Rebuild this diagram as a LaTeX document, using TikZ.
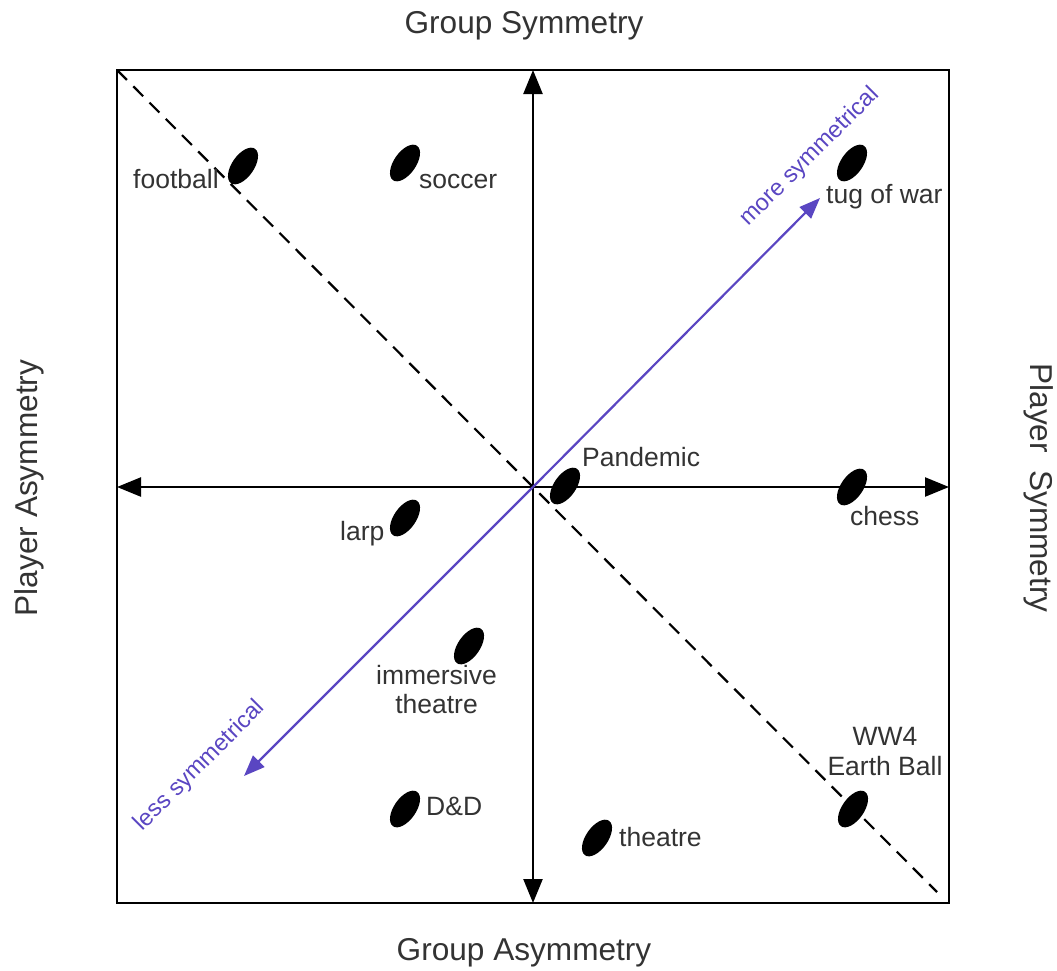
\documentclass[tikz,border=0pt]{standalone}
\usepackage{fontspec}
\setmainfont{Liberation Sans}
\usetikzlibrary{arrows.meta,shapes.geometric}
\definecolor{txt}{HTML}{333333}
\definecolor{purp}{HTML}{5A46C2}
\begin{document}
\begin{tikzpicture}[x=1pt,y=-1pt,
  frame/.style={line width=2.4pt},
  axis/.style={line width=2.4pt,{Triangle[length=24pt,width=19pt]}-{Triangle[length=24pt,width=19pt]}},
  diag/.style={line width=2.2pt,dash pattern=on 14pt off 9pt},
  purparrow/.style={line width=2.2pt,purp,-{Triangle[length=21pt,width=16pt]}},
  dot/.style={ellipse,fill=black,draw=none,minimum width=42pt,minimum height=22pt,inner sep=0pt,rotate=55},
  lab/.style={text=txt,font=\fontsize{26.5}{30}\selectfont,inner sep=0pt},
  title/.style={text=txt,font=\fontsize{31.6}{36}\selectfont,inner sep=0pt},
  plab/.style={text=purp,font=\fontsize{23.5}{26}\selectfont,inner sep=0pt,rotate=45}]
\useasboundingbox (0,0) rectangle (1057,970);
\coordinate (tl) at (117,70);
\coordinate (br) at (949,903);
\coordinate (c) at (533,487);
\coordinate (top) at (533,70);
\coordinate (bot) at (533,903);
\coordinate (lft) at (117,487);
\coordinate (rgt) at (949,487);
\coordinate (dend) at (937,892);
\coordinate (more) at (820,198);
\coordinate (less) at (244,776);
\draw[frame] (tl) rectangle (br);
\draw[diag] (tl) -- (dend);
\draw[axis] (bot) -- (top);
\draw[axis] (lft) -- (rgt);
\draw[purparrow] (c) -- (more);
\draw[purparrow] (c) -- (less);
% dots
\node[dot] (d1) at (243,166) {};
\node[dot] (d2) at (405,163) {};
\node[dot] (d3) at (852,163) {};
\node[dot] (d4) at (565,486) {};
\node[dot] (d5) at (852,487) {};
\node[dot] (d6) at (405,518) {};
\node[dot] (d7) at (469,646) {};
\node[dot] (d8) at (405,809) {};
\node[dot] (d9) at (597,838) {};
\node[dot] (d10) at (853,809) {};
% labels
\node[lab,anchor=base west] (l1) at (133,188) {football};
\node[lab,anchor=base west] (l2) at (419,188) {soccer};
\node[lab,anchor=base west] (l3) at (826,203) {tug of war};
\node[lab,anchor=base west] (l4) at (582,466) {Pandemic};
\node[lab,anchor=base west] (l5) at (850,525) {chess};
\node[lab,anchor=base west] (l6) at (340,540) {larp};
\node[lab,anchor=base] (l7a) at (436.5,684) {immersive};
\node[lab,anchor=base] (l7b) at (436.5,713) {theatre};
\node[lab,anchor=base west] (l8) at (426,815) {D\&D};
\node[lab,anchor=base west] (l9) at (619,846) {theatre};
\node[lab,anchor=base] (l10a) at (885,745) {WW4};
\node[lab,anchor=base] (l10b) at (885,775) {Earth Ball};
% titles
\node[title,anchor=base] (t1) at (524,33) {Group Symmetry};
\node[title,anchor=base] (t2) at (524,960) {Group Asymmetry};
\node[title,rotate=90,anchor=center] (t3) at (29,488) {Player Asymmetry};
\node[title,rotate=-90,anchor=center] (t4) at (1039,488) {Player\ \ Symmetry};
% purple labels
\node[plab] (p1) at (810,157) {more symmetrical};
\node[plab] (p2) at (200,766) {less symmetrical};
\end{tikzpicture}
\end{document}
